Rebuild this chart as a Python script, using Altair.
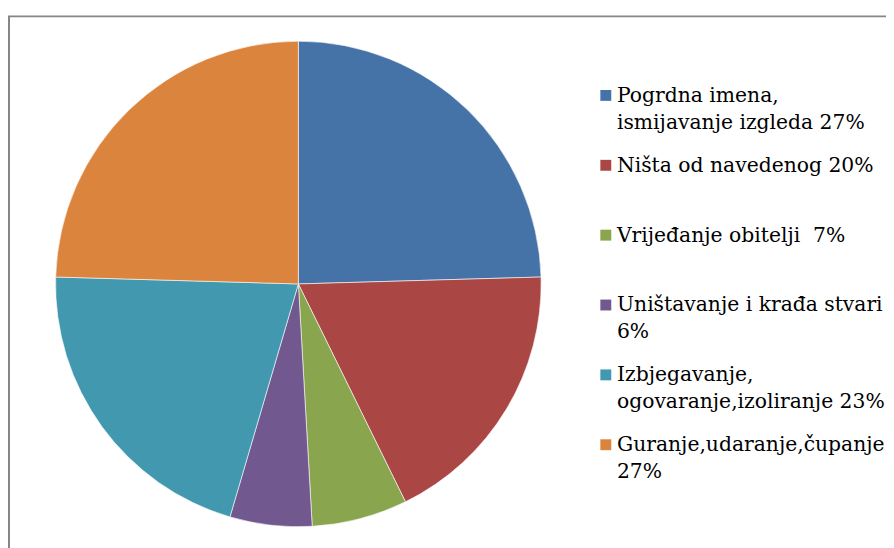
import altair as alt
import pandas as pd

categories = [
    "Pogrdna imena,\nismijavanje izgleda 27%",
    "Ništa od navedenog 20%",
    "Vrijeđanje obitelji \u00a07%",
    "Uništavanje i krađa stvari\n6%",
    "Izbjegavanje,\nogovaranje,izoliranje 23%",
    "Guranje,udaranje,čupanje\n27%",
]
values = [27, 20, 7, 6, 23, 27]
colors = ["#4572A7", "#AA4643", "#89A54E", "#71588F", "#4198AF", "#DB843D"]

df = pd.DataFrame({"cat": categories, "val": values, "idx": list(range(len(values)))})

SERIF = "DejaVu Serif"

frame = alt.Chart(alt.Data(values=[{}])).mark_rect(
    fill=None, stroke="#868686", strokeWidth=2
).encode(
    x=alt.value(1), x2=alt.value(1200), y=alt.value(6), y2=alt.value(1200)
)

pie = alt.Chart(df).mark_arc(
    outerRadius=245, stroke="white", strokeWidth=0.6
).encode(
    theta=alt.Theta("val:Q", stack=True),
    color=alt.Color(
        "cat:N",
        sort=categories,
        scale=alt.Scale(domain=categories, range=colors),
        legend=alt.Legend(
            title=None,
            orient="none",
            legendX=593,
            legendY=82,
            padding=0,
            symbolType="M-1,-2.18H1V-0.18H-1Z",
            symbolSize=121,
            symbolStrokeWidth=0,
            symbolOpacity=1,
            labelFont=SERIF,
            labelFontSize=20.5,
            labelColor="#000000",
            labelBaseline="alphabetic",
            labelOffset=1,
            labelLimit=0,
            labelExpr="split(datum.label, '\\n')",
            gridAlign="all",
            rowPadding=22.5,
        ),
    ),
    order=alt.Order("idx:Q"),
    x=alt.value(293),
    y=alt.value(276),
)

chart = alt.layer(frame, pie).properties(
    width=886, height=540, padding=0, autosize=alt.AutoSizeParams(type="none")
).configure(
    font=SERIF,
    style={"guide-label": {"lineHeight": 27, "font": SERIF, "fontSize": 20.5}},
).configure_legend(labelFont=SERIF).configure_view(stroke=None)

chart.save("out.html", embed_options={"renderer": "svg", "actions": False})
